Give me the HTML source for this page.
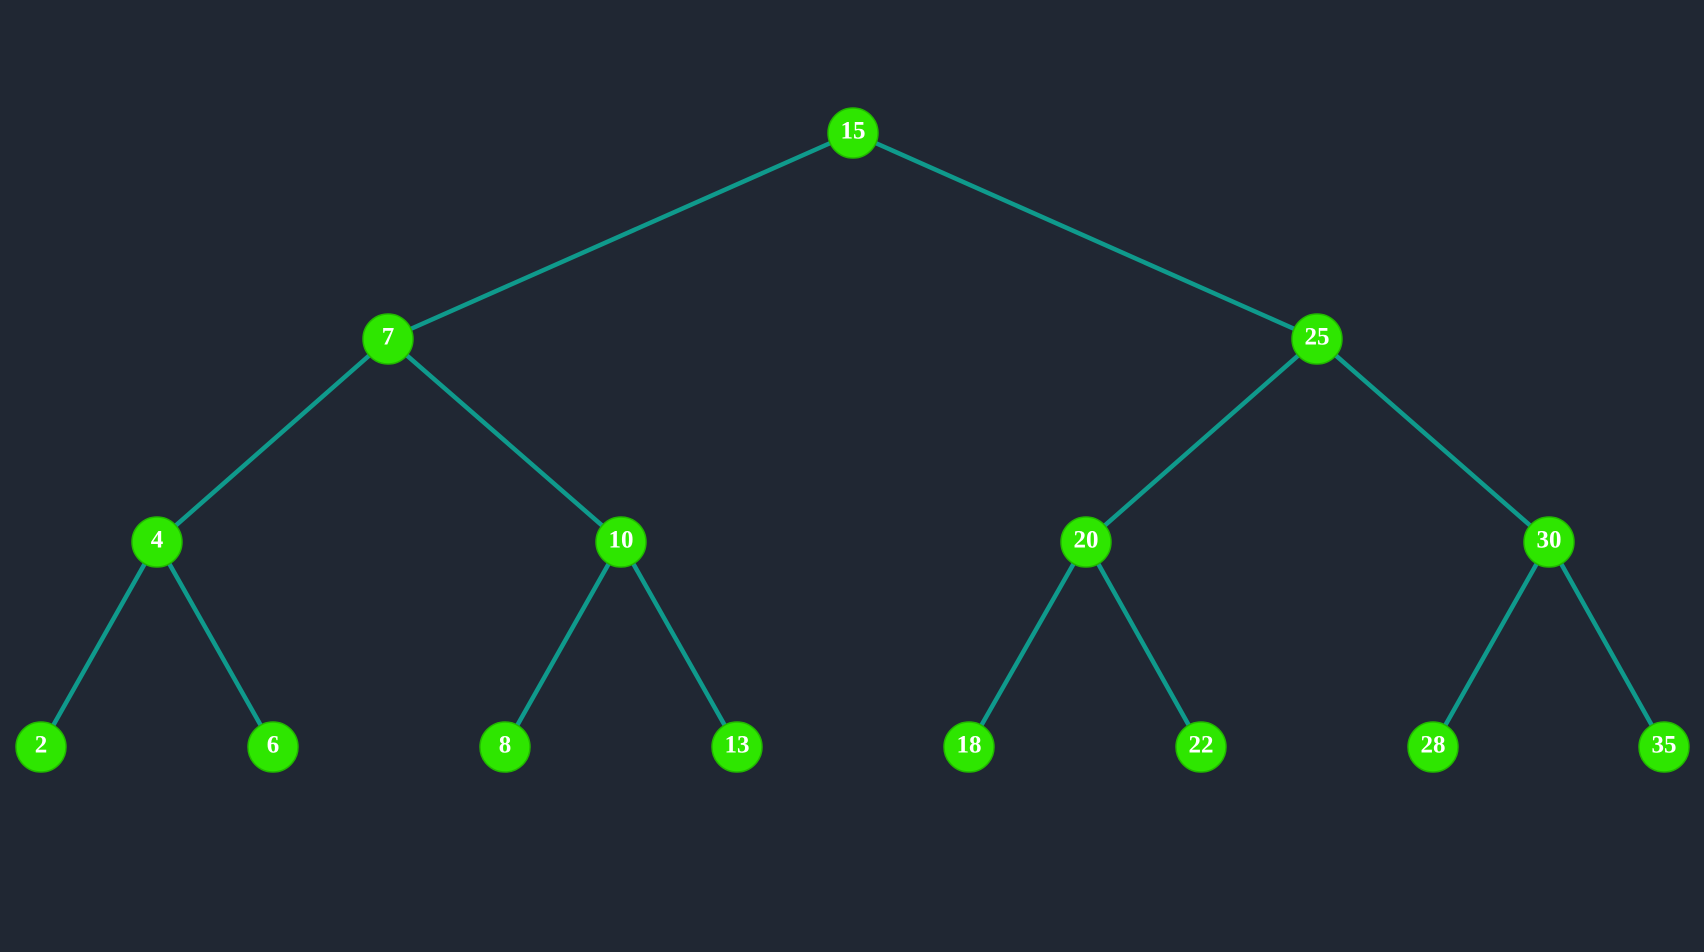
<!DOCTYPE html>
<html><head><style>
html,body{margin:0;padding:0;background:#202733;}
svg{display:block}
text{font-family:"Liberation Serif",serif;font-weight:bold;font-size:25px;fill:#fff;text-anchor:middle;dominant-baseline:central}
</style></head><body>
<svg width="1704" height="952" viewBox="0 0 1704 952">
<rect width="1704" height="952" fill="#202733"/>
<g stroke="#0f9a8c" stroke-width="4.5" stroke-linecap="round">
<line x1="853" y1="133" x2="388" y2="339"/>
<line x1="853" y1="133" x2="1317" y2="339"/>
<line x1="388" y1="339" x2="157" y2="542"/>
<line x1="388" y1="339" x2="621" y2="542"/>
<line x1="1317" y1="339" x2="1086" y2="542"/>
<line x1="1317" y1="339" x2="1549" y2="542"/>
<line x1="157" y1="542" x2="41" y2="747"/>
<line x1="157" y1="542" x2="273" y2="747"/>
<line x1="621" y1="542" x2="505" y2="747"/>
<line x1="621" y1="542" x2="737" y2="747"/>
<line x1="1086" y1="542" x2="969" y2="747"/>
<line x1="1086" y1="542" x2="1201" y2="747"/>
<line x1="1549" y1="542" x2="1433" y2="747"/>
<line x1="1549" y1="542" x2="1664" y2="747"/>
</g>
<g fill="#2ee600" stroke="#22b800" stroke-width="1.5">
<circle cx="853" cy="133" r="25"/>
<circle cx="388" cy="339" r="25"/>
<circle cx="1317" cy="339" r="25"/>
<circle cx="157" cy="542" r="25"/>
<circle cx="621" cy="542" r="25"/>
<circle cx="1086" cy="542" r="25"/>
<circle cx="1549" cy="542" r="25"/>
<circle cx="41" cy="747" r="25"/>
<circle cx="273" cy="747" r="25"/>
<circle cx="505" cy="747" r="25"/>
<circle cx="737" cy="747" r="25"/>
<circle cx="969" cy="747" r="25"/>
<circle cx="1201" cy="747" r="25"/>
<circle cx="1433" cy="747" r="25"/>
<circle cx="1664" cy="747" r="25"/>
</g>
<text x="853" y="131">15</text>
<text x="388" y="337">7</text>
<text x="1317" y="337">25</text>
<text x="157" y="540">4</text>
<text x="621" y="540">10</text>
<text x="1086" y="540">20</text>
<text x="1549" y="540">30</text>
<text x="41" y="745">2</text>
<text x="273" y="745">6</text>
<text x="505" y="745">8</text>
<text x="737" y="745">13</text>
<text x="969" y="745">18</text>
<text x="1201" y="745">22</text>
<text x="1433" y="745">28</text>
<text x="1664" y="745">35</text>
</svg>
</body></html>
